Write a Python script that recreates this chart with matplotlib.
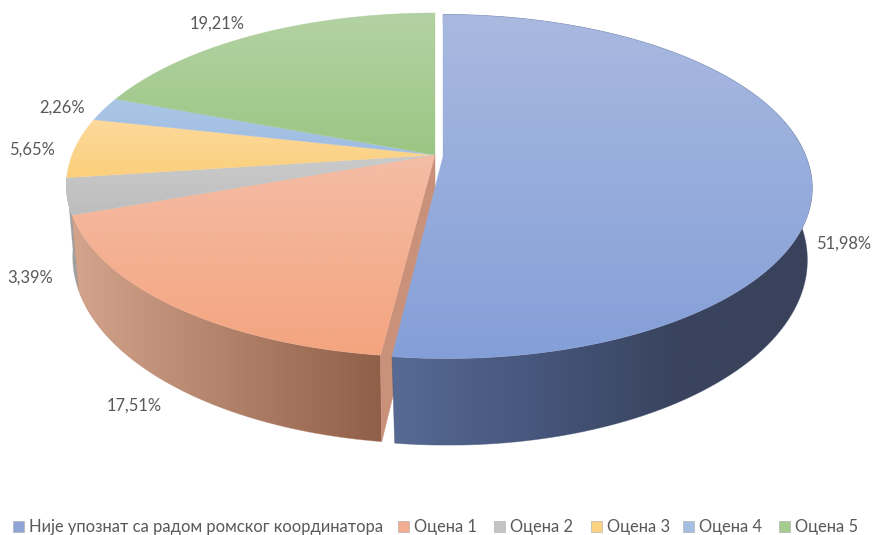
import numpy as np
import matplotlib
matplotlib.use('Agg')
import matplotlib.pyplot as plt
from matplotlib.colors import to_rgb
from matplotlib.patches import Polygon, Rectangle

plt.rcParams['font.family'] = ['Lato', 'Noto Sans', 'DejaVu Sans']

# chart data
categories = ['Није упознат са радом ромског координатора', 'Оцена 1', 'Оцена 2',
              'Оцена 3', 'Оцена 4', 'Оцена 5']
shares = [51.98, 17.51, 3.39, 5.65, 2.26, 19.21]
labels = ['51,98%', '17,51%', '3,39%', '5,65%', '2,26%', '19,21%']

# styles
legend_colors = ['#8fa5d8', '#f4ad90', '#c4c4c4', '#fcd283', '#a3c0e3', '#a5cb8f']
top_colors = [('#a9b9e0', '#849fd8'), ('#f4bda6', '#f4a47f'), ('#cbcbcb', '#bdbdbd'),
              ('#fdd99c', '#fbcf7b'), ('#aac6e6', '#9fbde2'), ('#b3d2a4', '#9cc684')]
wall_colors = [['#566a94', '#47567c', '#39445f', '#39425a'],
               ['#d4a48c', '#8f5f47'], ['#a0a0a0', '#a0a0a0']]
label_xy = [(844, 244), (134, 406), (30, 278), (32, 150), (62, 108), (217, 24)]
legend_x = [13, 398, 494, 591, 683, 779]

# projected disc of the pie: top face and bottom face
TOP = dict(y0=155, c=363, k=166.8, p=0.1745)
BOTTOM = dict(y0=225, c=357, k=181.5, p=0.17)
CENTER_X = 435
BLUE_SHIFT = (8, 1.5)
BLUE_SHIFT_LOW = (9.5, 1.5)
NEAR_GROW = 3.5  # the pulled out slice moves a bit further near the viewer


def project(angles, disc, shift=(0, 0), grow=0):
    """Angle clockwise from 12 o'clock to pixel position."""
    u, v = np.sin(angles), np.cos(angles)
    w = 1 + disc['p'] * v
    return np.column_stack([CENTER_X + disc['c'] * u / w + shift[0] + grow * np.maximum(-v, 0),
                            disc['y0'] - disc['k'] * v / w + shift[1]])


def apex(disc, shift=(0, 0)):
    return np.array([[CENTER_X + shift[0], disc['y0'] + shift[1]]])


layer = [1]


def next_z():
    layer[0] += 1
    return layer[0]


def fill_gradient(ax, pts, colors, horizontal=False):
    """Fills a polygon with a linear colour ramp."""
    rgb = np.array([to_rgb(c) for c in colors])
    pos = np.linspace(0, 1, len(colors))
    t = np.linspace(0, 1, 256)
    ramp = np.column_stack([np.interp(t, pos, rgb[:, i]) for i in range(3)])
    img = ramp[np.newaxis, :, :] if horizontal else ramp[:, np.newaxis, :]
    x0, x1 = pts[:, 0].min(), pts[:, 0].max()
    y0, y1 = pts[:, 1].min(), pts[:, 1].max()
    im = ax.imshow(img, extent=(x0, x1, y1, y0), aspect='auto', interpolation='bilinear',
                   zorder=next_z())
    poly = Polygon(pts, closed=True, transform=ax.transData, facecolor='none', edgecolor='none')
    ax.add_patch(poly)
    im.set_clip_path(poly)
    # soften the hard clip edge
    mid = rgb.mean(axis=0)
    ax.add_patch(Polygon(pts, closed=True, facecolor='none', edgecolor=mid, lw=0.5, alpha=0.5,
                         zorder=next_z()))


fig = plt.figure(figsize=(8.72, 5.35), dpi=100)
ax = fig.add_axes([0, 0, 1, 1])

edges = np.deg2rad(np.concatenate([[0], np.cumsum(shares)]) * 3.6)


def arc(i, n=160):
    return np.linspace(edges[i], edges[i + 1], n)


# outer walls of the grey and orange slices
for i in [2, 1]:
    a = arc(i)
    band = np.vstack([project(a, TOP), project(a[::-1], BOTTOM)])
    fill_gradient(ax, band, wall_colors[i], horizontal=True)

# cut face of the orange slice next to the pulled out slice
end = edges[1]
face = np.vstack([apex(TOP), project(np.array([end]), TOP),
                  project(np.array([end]), BOTTOM), apex(BOTTOM)])
ax.add_patch(Polygon(face, closed=True, facecolor='#c9917a', edgecolor='#c9917a', lw=0.4,
                     zorder=next_z()))

# top faces of the slices that stay in place
for i in [1, 2, 3, 4, 5]:
    top = np.vstack([apex(TOP), project(arc(i), TOP)])
    fill_gradient(ax, top, top_colors[i])

# pulled out blue slice
a = arc(0, 300)
band = np.vstack([project(a, TOP, BLUE_SHIFT, NEAR_GROW),
                  project(a[::-1], BOTTOM, BLUE_SHIFT_LOW, NEAR_GROW)])
fill_gradient(ax, band, wall_colors[0], horizontal=True)
top = np.vstack([apex(TOP, BLUE_SHIFT), project(a, TOP, BLUE_SHIFT, NEAR_GROW)])
fill_gradient(ax, top, top_colors[0])

# data labels
for text, (x, y) in zip(labels, label_xy):
    ax.text(x, y, text, fontsize=11.9, color='#595959', ha='center', va='center', zorder=50)

# legend
for name, color, x in zip(categories, legend_colors, legend_x):
    ax.add_patch(Rectangle((x, 521), 11, 11, facecolor=color, edgecolor='#a8a8a8', lw=0.4,
                           zorder=50))
    ax.text(x + 15.5, 527, name, fontsize=11.9, color='#595959', ha='left', va='center',
            zorder=50)

ax.set_xlim(0, 872)
ax.set_ylim(535, 0)
ax.axis('off')
fig.savefig('out.png', dpi=100)
